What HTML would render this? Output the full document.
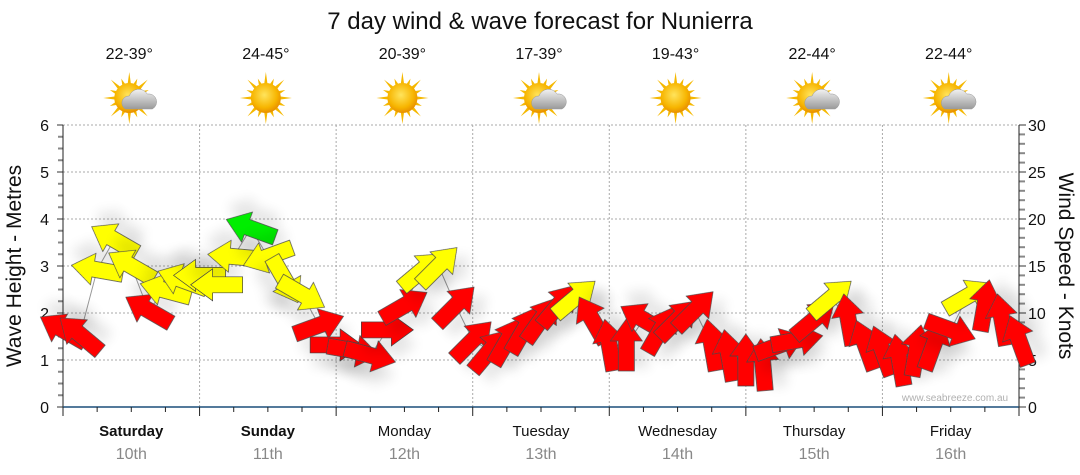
<!DOCTYPE html>
<html><head><meta charset="utf-8"><style>
body{margin:0;background:#fff;}
svg{display:block;font-family:"Liberation Sans",sans-serif;}
</style></head><body>
<svg id="chart" width="1080" height="475" viewBox="0 0 1080 475">
<defs>
<filter id="sh" x="-60%" y="-60%" width="220%" height="220%"><feGaussianBlur in="SourceAlpha" stdDeviation="6"/><feOffset dx="3" dy="14"/><feComponentTransfer><feFuncA type="linear" slope="0.1"/></feComponentTransfer><feMerge><feMergeNode/><feMergeNode in="SourceGraphic"/></feMerge></filter>
<radialGradient id="sun" cx="45%" cy="40%" r="60%"><stop offset="0" stop-color="#ffe45c"/><stop offset="0.7" stop-color="#f7b500"/><stop offset="1" stop-color="#e88f00"/></radialGradient>
<linearGradient id="cloud" x1="0" y1="0" x2="0" y2="1"><stop offset="0" stop-color="#f2f2f2"/><stop offset="1" stop-color="#9a9a9a"/></linearGradient>
</defs>
<text x="540" y="29" text-anchor="middle" font-size="24" fill="#111">7 day wind &amp; wave forecast for Nunierra</text>
<g id="grid"></g>
<g id="axes"></g>
<g id="days"></g>
<g id="icons"></g>
<text transform="translate(21,266) rotate(-90)" text-anchor="middle" font-size="21" fill="#111">Wave Height - Metres</text>
<text transform="translate(1059,266) rotate(90)" text-anchor="middle" font-size="21" fill="#111">Wind Speed - Knots</text>
<text x="955" y="401" text-anchor="middle" font-size="10" fill="#b0b0b0">www.seabreeze.com.au</text>
<g id="series"></g>
</svg>
<script>
const dayNames=["Saturday","Sunday","Monday","Tuesday","Wednesday","Thursday","Friday"];
const dayDates=["10th","11th","12th","13th","14th","15th","16th"];
const temps=["22-39°","24-45°","20-39°","17-39°","19-43°","22-44°","22-44°"];
const iconType=["cloud","sun","sun","cloud","sun","cloud","cloud"];
const leftTicks=[0,1,2,3,4,5,6];
const rightTicks=[0,5,10,15,20,25,30];
const hours=[0,3,6,9,12,15,18,21,24,27,30,33,36,39,42,45,48,51,54,57,60,63,66,69,72,75,78,81,84,87,90,93,96,99,102,105,108,111,114,117,120,123,126,129,132,135,138,141,144,147,150,153,156,159,162,165,168];
const windKnots=[8.2,7.7,14.6,17.8,15,10.3,12.4,13.5,14,13,16,19,16,13.5,12,8.7,6.6,6,5.5,8.2,10.8,14.5,15,10.8,7.1,6,7,8.2,9.3,10.8,11.6,9.3,6.6,6.6,9.3,8.2,9.3,10.3,6.6,5.5,5,4.5,6.6,7.1,9.3,11.6,9.3,6.6,6,5,6,6.6,8.2,11.8,10.8,9.3,7.1];
const windDirDeg=[150,140,170,150,150,150,165,160,180,180,175,160,200,-60,-30,20,0,-10,-15,0,30,40,45,45,45,50,60,60,55,50,40,120,100,90,150,60,45,45,100,100,90,95,20,10,40,40,100,110,110,100,80,70,-20,30,80,100,110];

const X0=63,X1=1019,Y0=407,Y6=125;
const xS=h=>X0+(X1-X0)*h/168;
const yL=m=>Y0-(Y0-Y6)*m/6;
const yR=k=>Y0-(Y0-Y6)*k/30;
const NS="http://www.w3.org/2000/svg";
function mk(tag,attrs,parent){const e=document.createElementNS(NS,tag);for(const k in attrs)e.setAttribute(k,attrs[k]);parent.appendChild(e);return e;}
const grid=document.getElementById('grid'),axes=document.getElementById('axes'),days=document.getElementById('days'),icons=document.getElementById('icons'),series=document.getElementById('series');

leftTicks.forEach(v=>{
  if(v>0){const g=mk('line',{x1:X0,x2:X1,y1:yL(v),y2:yL(v),stroke:'#aaa','stroke-dasharray':'2,2'},grid);
  
  }
  const t=mk('text',{x:49,y:yL(v)+6,'text-anchor':'end','font-size':16,fill:'#111'},axes);t.textContent=v;
  
  
  mk('line',{x1:X0-6,x2:X0,y1:yL(v),y2:yL(v),stroke:'#333'},axes);
});
for(let i=1;i<24;i++){if(i%4)mk('line',{x1:X0-5,x2:X0,y1:yL(i/4),y2:yL(i/4),stroke:'#888','stroke-width':2},axes);}
rightTicks.forEach(v=>{
  const t=mk('text',{x:1028,y:yR(v)+6,'font-size':16,fill:'#111'},axes);t.textContent=v;
  
  
  mk('line',{x1:X1,x2:X1+7,y1:yR(v),y2:yR(v),stroke:'#333'},axes);
});
for(let i=1;i<30;i++){if(i%5)mk('line',{x1:X1,x2:X1+6,y1:yR(i),y2:yR(i),stroke:'#888','stroke-width':2},axes);}
mk('line',{x1:X0,x2:X0,y1:Y6,y2:Y0+8,stroke:'#222'},axes);
mk('line',{x1:X1,x2:X1,y1:Y6,y2:Y0,stroke:'#222'},axes);
mk('line',{x1:X0,x2:X1,y1:Y0,y2:Y0,stroke:'#1b4f7a','stroke-width':1.5},axes);
for(let h=0;h<=168;h+=6){const maj=h%24==0;mk('line',{x1:xS(h),x2:xS(h),y1:Y0,y2:Y0+(maj?9:5),stroke:'#222'},axes);
  if(maj&&h>0&&h<168){const g=mk('line',{x1:xS(h),x2:xS(h),y1:Y6,y2:Y0,stroke:'#aaa','stroke-dasharray':'2,2'},grid);
  
  }}

dayNames.forEach((d,i)=>{
  const cx=xS(i*24+12);
  const t=mk('text',{x:cx,y:436,'text-anchor':'middle','font-size':15,fill:'#111','font-weight':i<2?'bold':'normal'},days);t.textContent=d;
  
  
  const t2=mk('text',{x:cx,y:459,'text-anchor':'middle','font-size':16,fill:'#888'},days);t2.textContent=dayDates[i];
  
  
  const t3=mk('text',{x:cx-2,y:59,'text-anchor':'middle','font-size':16,fill:'#111'},icons);t3.textContent=temps[i];
  
  
  const g=mk('g',{transform:`translate(${cx-2},98)`},icons);
  
  
  for(let a=0;a<16;a++){const r=a%2?21:26;const ang=a*Math.PI/8;
    mk('polygon',{points:`${Math.cos(ang-0.12)*14},${Math.sin(ang-0.12)*14} ${Math.cos(ang)*r},${Math.sin(ang)*r} ${Math.cos(ang+0.12)*14},${Math.sin(ang+0.12)*14}`,fill:'#f5b800'},g);}
  mk('circle',{cx:0,cy:0,r:15,fill:'url(#sun)'},g);
  if(iconType[i]=='cloud'){mk('path',{d:'M-6,14 a7,7 0 0 1 4,-13 a10,10 0 0 1 18,-2 a8,8 0 0 1 5,15 z',fill:'url(#cloud)',stroke:'#999','stroke-width':0.5,transform:'translate(2,-3)'},g);}
});

const pts=hours.map((h,i)=>xS(h)+','+yR(windKnots[i])).join(' ');
const pl=mk('polyline',{points:pts,fill:'none',stroke:'#999','stroke-width':1},series);


const arrowPath='M-26,-8 L4,-8 L4,-16 L26,0 L4,16 L4,8 L-26,8 Z';
hours.forEach((h,i)=>{
  const k=windKnots[i];
  const col=k>=18.5?'#00ee00':(k>=11?'#ffff00':'#ff0000');
  const a=mk('path',{d:arrowPath,fill:col,stroke:'#444','stroke-width':0.7,filter:'url(#sh)',
    transform:`translate(${xS(h)},${yR(k)}) rotate(${-windDirDeg[i]})`},series);
  
  
});
</script>
</body></html>
